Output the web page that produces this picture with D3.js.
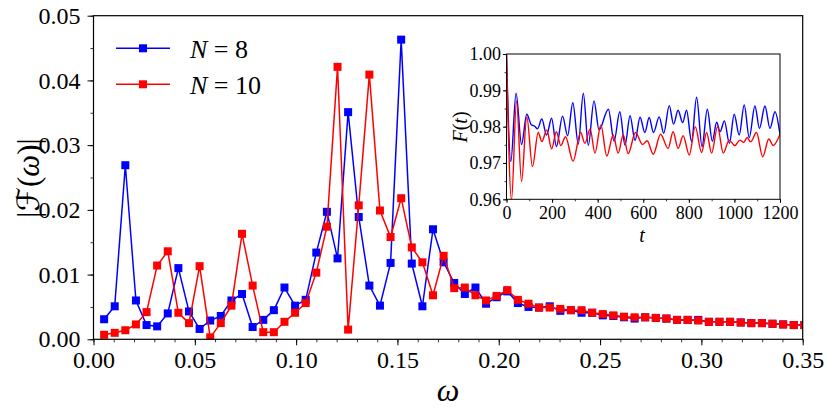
<!DOCTYPE html>
<html>
<head>
<meta charset="utf-8">
<script src="https://cdn.jsdelivr.net/npm/d3@7"></script>
<style>
  body { margin: 0; background: #fff; }
</style>
</head>
<body>
<svg id="chart" width="830" height="415"></svg>
<script>
// spectrum |F(omega)|, one value per frequency bin
const omega = [
  0.00524, 0.01047, 0.01571, 0.02094, 0.02618, 0.03142, 0.03665, 0.04189, 0.04712, 0.05236,
  0.05760, 0.06283, 0.06807, 0.07330, 0.07854, 0.08378, 0.08901, 0.09425, 0.09948, 0.10472,
  0.10996, 0.11519, 0.12043, 0.12566, 0.13090, 0.13614, 0.14137, 0.14661, 0.15184, 0.15708,
  0.16232, 0.16755, 0.17279, 0.17802, 0.18326, 0.18850, 0.19373, 0.19897, 0.20420, 0.20944,
  0.21468, 0.21991, 0.22515, 0.23038, 0.23562, 0.24086, 0.24609, 0.25133, 0.25656, 0.26180,
  0.26704, 0.27227, 0.27751, 0.28274, 0.28798, 0.29322, 0.29845, 0.30369, 0.30892, 0.31416,
  0.31940, 0.32463, 0.32987, 0.33510, 0.34034, 0.34558, 0.35081
];
const specN8 = [
  0.0031, 0.0051, 0.0269, 0.0060, 0.0022, 0.0020, 0.0040, 0.0110, 0.0043, 0.0016,
  0.0029, 0.0036, 0.0060, 0.0070, 0.0019, 0.0030, 0.0045, 0.0080, 0.0052, 0.0061,
  0.0134, 0.0197, 0.0125, 0.0351, 0.0189, 0.0083, 0.0052, 0.0118, 0.0463, 0.0117,
  0.0051, 0.0170, 0.0119, 0.0087, 0.0070, 0.0080, 0.0055, 0.0065, 0.0074, 0.0056,
  0.0050, 0.0049, 0.0051, 0.0044, 0.0045, 0.0041, 0.0041, 0.0037, 0.0036, 0.0034,
  0.0032, 0.0034, 0.0033, 0.0032, 0.0030, 0.0030, 0.0030, 0.0027, 0.0027, 0.0027,
  0.0026, 0.0025, 0.0025, 0.0024, 0.0023, 0.0022, 0.0022
];
const specN10 = [
  0.0007, 0.0010, 0.0014, 0.0023, 0.0042, 0.0114, 0.0136, 0.0041, 0.0025, 0.0113,
  0.0003, 0.0025, 0.0052, 0.0163, 0.0083, 0.0011, 0.0011, 0.0027, 0.0041, 0.0056,
  0.0103, 0.0174, 0.0421, 0.0015, 0.0207, 0.0409, 0.0199, 0.0158, 0.0218, 0.0142,
  0.0119, 0.0068, 0.0129, 0.0079, 0.0080, 0.0068, 0.0060, 0.0067, 0.0076, 0.0061,
  0.0055, 0.0049, 0.0049, 0.0047, 0.0045, 0.0045, 0.0041, 0.0039, 0.0037, 0.0035,
  0.0034, 0.0034, 0.0033, 0.0032, 0.0030, 0.0030, 0.0029, 0.0027, 0.0027, 0.0027,
  0.0026, 0.0025, 0.0025, 0.0024, 0.0023, 0.0022, 0.0022
];

// inset: F(t), read at turning points
const tN8 = [0, 19, 42, 66, 89, 109, 124, 136, 155, 176, 198, 219, 246, 268, 291, 315, 337, 359, 384, 406,
  447, 472, 497, 520, 542, 564, 586, 607, 626, 645, 670, 690, 714, 733, 753, 773, 790, 812, 834, 858,
  881, 903, 922, 937, 956, 978, 999, 1021, 1043, 1065, 1090, 1110, 1134, 1156, 1178, 1200];
const fN8 = [1.000, 0.9704, 0.9892, 0.9751, 0.9834, 0.9805, 0.9801, 0.9794, 0.9821, 0.9777, 0.9823, 0.9745,
  0.9829, 0.9775, 0.9866, 0.9752, 0.9892, 0.9749, 0.9871, 0.9791, 0.9848, 0.9760, 0.9841, 0.9749,
  0.9830, 0.9762, 0.9826, 0.9784, 0.9825, 0.9784, 0.9827, 0.9782, 0.9858, 0.9807, 0.9845, 0.9811,
  0.9845, 0.9759, 0.9881, 0.9745, 0.9848, 0.9760, 0.9812, 0.9786, 0.9816, 0.9754, 0.9834, 0.9777,
  0.9860, 0.9770, 0.9857, 0.9795, 0.9857, 0.9795, 0.9841, 0.9778];
const tN10 = [0, 22, 44, 66, 89, 114, 139, 155, 177, 198, 219, 238, 259, 292, 325, 344, 367, 388, 414, 440,
  468, 490, 512, 534, 566, 597, 617, 644, 676, 709, 731, 753, 775, 802, 828, 856, 878, 900, 926, 951,
  977, 1002, 1024, 1041, 1056, 1071, 1097, 1124, 1151, 1170, 1200];
const fN10 = [1.000, 0.9598, 0.9871, 0.9649, 0.9827, 0.9690, 0.9784, 0.9759, 0.9791, 0.9739, 0.9786, 0.9748,
  0.9772, 0.9705, 0.9784, 0.9754, 0.9794, 0.9727, 0.9805, 0.9719, 0.9777, 0.9727, 0.9777, 0.9726,
  0.9784, 0.9751, 0.9761, 0.9724, 0.9779, 0.9740, 0.9786, 0.9740, 0.9775, 0.9722, 0.9800, 0.9729,
  0.9784, 0.9727, 0.9800, 0.9727, 0.9763, 0.9748, 0.9763, 0.9757, 0.9770, 0.9758, 0.9784, 0.9717,
  0.9766, 0.9748, 0.9779];

const xTicks = [0, 0.05, 0.10, 0.15, 0.20, 0.25, 0.30, 0.35];
const yTicks = [0, 0.01, 0.02, 0.03, 0.04, 0.05];
const insetXTicks = [0, 200, 400, 600, 800, 1000, 1200];
const insetYTicks = [0.96, 0.97, 0.98, 0.99, 1.00];

const BLUE  = '#0000ff';
const RED   = '#ff0000';
const SERIF = '"Liberation Serif", "Times New Roman", serif';

const svg = d3.select('#chart');

// text helper so every label gets the serif face inline
function label(parent, x0, y0, size) {
  return parent.append('text').attr('x', x0).attr('y', y0)
    .style('font-family', SERIF).style('font-size', size).attr('fill', '#000');
}

// ---- main panel
const M = { left: 93.5, top: 15.7, right: 802.7, bottom: 339.3 };
const x = d3.scaleLinear().domain([0, 0.35]).range([M.left, M.right]);
const y = d3.scaleLinear().domain([0, 0.05]).range([M.bottom, M.top]);

svg.append('clipPath').attr('id', 'mainClip')
  .append('rect').attr('x', M.left).attr('y', M.top)
  .attr('width', M.right - M.left).attr('height', M.bottom - M.top);

function drawAxis(g, axis, minorAxis, fontSize) {
  g.append('g').call(minorAxis).call(s => {
    s.select('.domain').remove();
    s.selectAll('text').remove();
    s.selectAll('line').attr('stroke', '#000').attr('stroke-width', 0.8);
  });
  g.append('g').call(axis).call(s => {
    s.attr('font-family', null).attr('font-size', null);
    s.select('.domain').remove();
    s.selectAll('line').attr('stroke', '#000').attr('stroke-width', 1);
    s.selectAll('text').style('font-size', fontSize).style('font-family', SERIF);
  });
}

const xAxisG = svg.append('g').attr('transform', `translate(0,${M.bottom})`);
drawAxis(xAxisG,
  d3.axisBottom(x).tickValues(xTicks).tickFormat(d3.format('.2f')).tickSize(6).tickPadding(6),
  d3.axisBottom(x).tickValues(d3.range(0, 36).map(i => i / 100)).tickSize(3),
  '24px');

const yAxisG = svg.append('g').attr('transform', `translate(${M.left},0)`);
drawAxis(yAxisG,
  d3.axisLeft(y).tickValues(yTicks).tickFormat(d3.format('.2f')).tickSize(6).tickPadding(7),
  d3.axisLeft(y).tickValues(d3.range(0, 11).map(i => i * 0.005)).tickSize(3),
  '24px');

const series = [
  { name: '8',  values: specN8,  color: BLUE },
  { name: '10', values: specN10, color: RED }
];

const plot = svg.append('g').attr('clip-path', 'url(#mainClip)');
const line = d3.line().x(d => x(d[0])).y(d => y(d[1]));
const MS = 8;

series.forEach(s => {
  const pts = omega.map((w, i) => [w, s.values[i]]);
  const g = plot.append('g');
  g.append('path').datum(pts)
    .attr('d', line).attr('fill', 'none')
    .attr('stroke', s.color).attr('stroke-width', 1.5);
  g.selectAll('rect').data(pts).join('rect')
    .attr('x', d => x(d[0]) - MS / 2).attr('y', d => y(d[1]) - MS / 2)
    .attr('width', MS).attr('height', MS)
    .attr('fill', s.color);
});

svg.append('rect')
  .attr('x', M.left).attr('y', M.top)
  .attr('width', M.right - M.left).attr('height', M.bottom - M.top)
  .attr('fill', 'none').attr('stroke', '#000').attr('stroke-width', 1.2);

// legend
const legend = svg.append('g');
series.forEach((s, i) => {
  const ly = 48.3 + i * 36;
  legend.append('line').attr('x1', 116).attr('x2', 170).attr('y1', ly).attr('y2', ly)
    .attr('stroke', s.color).attr('stroke-width', 1.5);
  legend.append('rect').attr('x', 143 - MS / 2).attr('y', ly - MS / 2)
    .attr('width', MS).attr('height', MS).attr('fill', s.color);
  const t = label(legend, 190, ly + 9.5, '26px');
  t.append('tspan').style('font-style', 'italic').text('N');
  t.append('tspan').text(' = ' + s.name);
});

// axis labels
label(svg, 448, 401, '32px').attr('text-anchor', 'middle').style('font-style', 'italic').text('ω');

const yl = label(svg, 0, 0, '31px')
  .attr('transform', 'translate(39,178) rotate(-90)')
  .attr('text-anchor', 'middle');
yl.append('tspan').text('|');
yl.append('tspan').style('font-family', '"DejaVu Sans", sans-serif').text('ℱ');
yl.append('tspan').text('(');
yl.append('tspan').style('font-style', 'italic').text('ω');
yl.append('tspan').text(')|');

// ---- inset
const I = { left: 506.5, top: 54, right: 780, bottom: 199.3 };
const xi = d3.scaleLinear().domain([0, 1200]).range([I.left, I.right]);
const yi = d3.scaleLinear().domain([0.96, 1.00]).range([I.bottom, I.top]);

svg.append('rect')
  .attr('x', I.left).attr('y', I.top)
  .attr('width', I.right - I.left).attr('height', I.bottom - I.top)
  .attr('fill', '#fff');

svg.append('clipPath').attr('id', 'insetClip')
  .append('rect').attr('x', I.left).attr('y', I.top)
  .attr('width', I.right - I.left).attr('height', I.bottom - I.top);

const xiG = svg.append('g').attr('transform', `translate(0,${I.bottom})`);
drawAxis(xiG,
  d3.axisBottom(xi).tickValues(insetXTicks).tickFormat(d3.format('d')).tickSize(3.5).tickPadding(3),
  d3.axisBottom(xi).tickValues(d3.range(0, 13).map(i => i * 100)).tickSize(2),
  '18px');

const yiG = svg.append('g').attr('transform', `translate(${I.left},0)`);
drawAxis(yiG,
  d3.axisLeft(yi).tickValues(insetYTicks).tickFormat(d3.format('.2f')).tickSize(3.5).tickPadding(2),
  d3.axisLeft(yi).tickValues(d3.range(0, 9).map(i => 0.96 + i * 0.005)).tickSize(2),
  '18px');

const insetLine = d3.line().x(d => xi(d[0])).y(d => yi(d[1])).curve(d3.curveMonotoneX);
const insetSeries = [
  { t: tN8,  f: fN8,  color: BLUE },
  { t: tN10, f: fN10, color: RED }
];
const ip = svg.append('g').attr('clip-path', 'url(#insetClip)');
insetSeries.forEach(s => {
  ip.append('path').datum(s.t.map((t, i) => [t, s.f[i]]))
    .attr('d', insetLine).attr('fill', 'none')
    .attr('stroke', s.color).attr('stroke-width', 1.4);
});

svg.append('rect')
  .attr('x', I.left).attr('y', I.top)
  .attr('width', I.right - I.left).attr('height', I.bottom - I.top)
  .attr('fill', 'none').attr('stroke', '#000').attr('stroke-width', 1);

label(svg, 642, 242, '20px').attr('text-anchor', 'middle').style('font-style', 'italic').text('t');

const iyl = label(svg, 0, 0, '20px')
  .attr('transform', 'translate(467,127) rotate(-90)')
  .attr('text-anchor', 'middle');
iyl.append('tspan').style('font-style', 'italic').text('F');
iyl.append('tspan').text('(');
iyl.append('tspan').style('font-style', 'italic').text('t');
iyl.append('tspan').text(')');
</script>
</body>
</html>
